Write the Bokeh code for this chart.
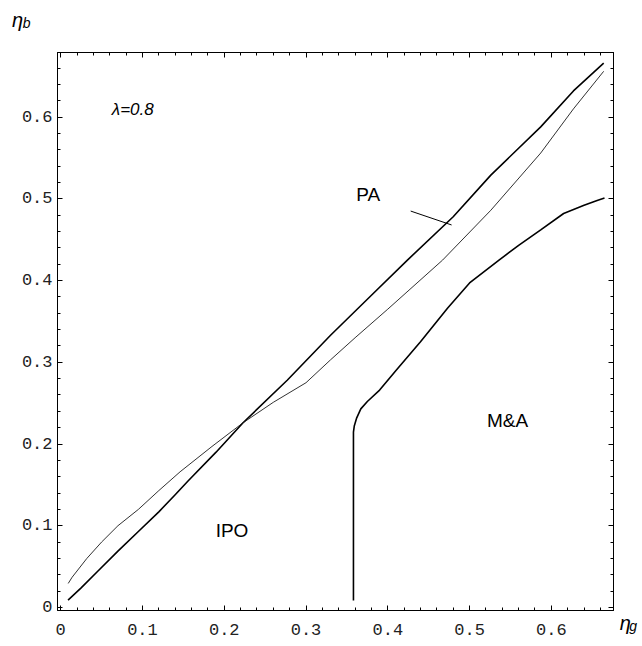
from bokeh.plotting import figure
from bokeh.models import Range1d, LinearAxis, FixedTicker, Label
from bokeh.core.properties import value
from bokeh.embed import file_html
from bokeh.resources import INLINE
import numpy as np

# ---- data ----
# thick boundary
thick_x = [0.009, 0.025, 0.045, 0.070, 0.095, 0.120, 0.140, 0.156, 0.190, 0.223,
           0.277, 0.330, 0.380, 0.424, 0.480, 0.526, 0.587, 0.627, 0.664]
thick_y = [0.009, 0.024, 0.044, 0.069, 0.093, 0.117, 0.138, 0.155, 0.190, 0.226,
           0.278, 0.333, 0.382, 0.425, 0.478, 0.529, 0.588, 0.632, 0.666]
# thin boundary
thin_x = [0.0092, 0.014, 0.032, 0.050, 0.070, 0.095, 0.120, 0.146, 0.185, 0.223,
          0.260, 0.300, 0.330, 0.360, 0.400, 0.467, 0.526, 0.587, 0.627, 0.664]
thin_y = [0.0294, 0.037, 0.060, 0.080, 0.100, 0.120, 0.143, 0.166, 0.197, 0.226,
          0.251, 0.275, 0.303, 0.330, 0.365, 0.425, 0.486, 0.556, 0.610, 0.656]
# M&A boundary
ma_x = [0.358, 0.358, 0.359, 0.362, 0.367, 0.375, 0.390, 0.410, 0.440, 0.473, 0.500,
        0.536, 0.560, 0.587, 0.615, 0.640, 0.656, 0.665]
ma_y = [0.0086, 0.2146, 0.222, 0.232, 0.243, 0.252, 0.266, 0.290, 0.325, 0.366, 0.397,
        0.425, 0.443, 0.462, 0.482, 0.492, 0.498, 0.501]
# PA pointer
pa_ptr_x = [0.428, 0.478]
pa_ptr_y = [0.485, 0.468]

major_ticks = [0, 0.1, 0.2, 0.3, 0.4, 0.5, 0.6]
tick_labels = ["0", "0.1", "0.2", "0.3", "0.4", "0.5", "0.6"]
minor_ticks = [round(v, 2) for v in np.arange(0, 0.681, 0.02)]

region_labels = [("PA", 0.376, 0.505), ("IPO", 0.2095, 0.0939), ("M&A", 0.5465, 0.229)]
param_label = ("λ=0.8", 0.0881, 0.6093)

p = figure(width=642, height=646, output_backend="svg", toolbar_location=None,
           x_range=Range1d(-0.0039, 0.676), y_range=Range1d(-0.0037, 0.679),
           min_border_left=57, min_border_right=29, min_border_top=52, min_border_bottom=36)
p.grid.visible = False
p.background_fill_color = "white"
p.border_fill_color = "white"
p.outline_line_color = "black"
p.outline_line_width = 1

x_overrides = {t: l for t, l in zip(major_ticks, tick_labels)}
# y labels right-aligned by padding to equal width (monospace font)
width = max(len(l) for l in tick_labels)
y_overrides = {t: "\u00a0" * (width - len(l)) + l for t, l in zip(major_ticks, tick_labels)}


def base_axis(ax):
    ax.axis_line_color = "black"
    ax.axis_line_width = 1
    ax.major_tick_out = 0
    ax.minor_tick_out = 0
    ax.major_tick_line_color = "black"
    ax.minor_tick_line_color = "black"


for ax, ov in ((p.xaxis[0], x_overrides), (p.yaxis[0], y_overrides)):
    base_axis(ax)
    ax.ticker = FixedTicker(ticks=major_ticks, minor_ticks=minor_ticks)
    ax.major_tick_in = 5
    ax.minor_tick_in = 3
    ax.major_label_overrides = ov
    ax.major_label_text_font = "Liberation Mono"
    ax.major_label_text_font_size = "17px"
    ax.major_label_text_color = "#222222"
p.yaxis[0].major_label_standoff = 5
p.xaxis[0].major_label_standoff = 13

# top / right frame ticks without labels (minor ticks only, two lengths)
for side in ("above", "right"):
    ax_minor = LinearAxis(ticker=FixedTicker(ticks=[], minor_ticks=minor_ticks))
    base_axis(ax_minor)
    ax_minor.minor_tick_in = 3
    ax_major = LinearAxis(ticker=FixedTicker(ticks=[], minor_ticks=major_ticks))
    base_axis(ax_major)
    ax_major.minor_tick_in = 5
    p.add_layout(ax_minor, side)
    p.add_layout(ax_major, side)

p.line(thick_x, thick_y, line_color="black", line_width=1.6)
p.line(thin_x, thin_y, line_color="#1a1a1a", line_width=0.9)
p.line(ma_x, ma_y, line_color="black", line_width=1.6)
p.line(pa_ptr_x, pa_ptr_y, line_color="black", line_width=1)

for txt, x, y in region_labels:
    p.text(x=[x], y=[y], text=[txt], text_font=value("Liberation Sans"),
           text_font_size="19px", text_align="center", text_baseline="middle",
           text_color="black")

p.text(x=[param_label[1]], y=[param_label[2]], text=[param_label[0]],
       text_font=value("Liberation Sans"), text_font_size="17px",
       text_font_style="italic", text_align="center", text_baseline="middle",
       text_color="black")

# axis symbols (placed in side panels so they are not clipped to the frame)
def sym(txt, x, y, size):
    return Label(x=x, y=y, text=txt, text_font="Liberation Sans",
                 text_font_size=size, text_font_style="italic",
                 text_align="left", text_baseline="alphabetic", text_color="black")

p.add_layout(sym("η", -0.0594, 0.719, "20px"), "above")
p.add_layout(sym("b", -0.0465, 0.715, "14px"), "above")
p.add_layout(sym("η", 0.6836, -0.0196, "20px"), "right")
p.add_layout(sym("g", 0.6952, -0.0232, "14px"), "right")

open("out.html", "w").write(file_html(p, INLINE))
